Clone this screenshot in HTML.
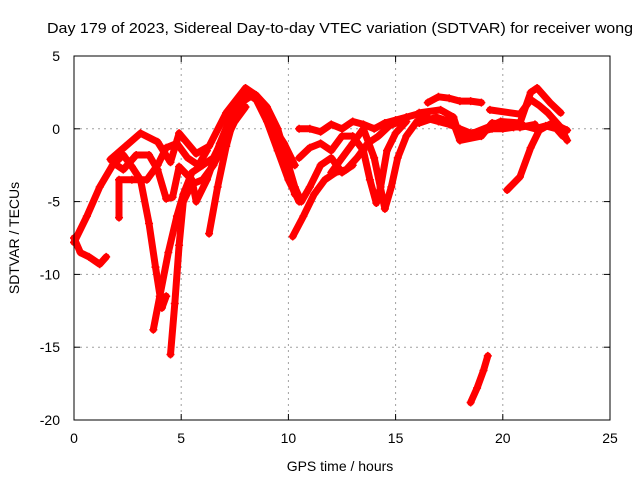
<!DOCTYPE html>
<html><head><meta charset="utf-8"><style>
body{margin:0;background:#fff}
svg{display:block;font-family:"Liberation Sans",sans-serif}
</style></head><body>
<svg id="chart" width="640" height="480" viewBox="0 0 640 480">
<text x="340" y="33" text-anchor="middle" font-size="15" textLength="586" lengthAdjust="spacingAndGlyphs">Day 179 of 2023, Sidereal Day-to-day VTEC variation (SDTVAR) for receiver wong</text>
<text x="340" y="471" text-anchor="middle" font-size="14">GPS time / hours</text>
<text transform="translate(19,238) rotate(-90)" text-anchor="middle" font-size="14">SDTVAR / TECUs</text>
<g id="grid"></g><g id="ticks"></g><g id="series"></g>
<rect x="74" y="56" width="536" height="364" fill="none" stroke="#000" stroke-width="1"/>
</svg>
<script>
const xTicks=[0,5,10,15,20,25];
const yTicks=[5,0,-5,-10,-15,-20];
const track1=[[0,-7.5],[0.3,-8.5],[0.7,-8.8],[1.2,-9.3],[1.5,-8.8]];
const track2=[[0,-7.8],[0.6,-6],[1.2,-4],[1.8,-2.5],[2.3,-1.8],[2.7,-2.6],[3.1,-3.5],[3.5,-6.5],[3.8,-9.5],[4.1,-12.3],[4.3,-11.5]];
const track3=[[3.7,-13.8],[4.0,-11.5],[4.4,-8.5],[4.8,-6],[5.1,-4.5],[5.5,-3],[6,-2.5],[6.5,-2],[7,-0.5],[7.5,1],[8,2.5],[8.5,2],[9,0.5],[9.5,-1.5],[10,-3.5],[10.5,-5]];
const track4=[[4.5,-15.5],[4.7,-12],[4.9,-8],[5.1,-5],[5.5,-3.8],[6,-3.5],[6.5,-2.5],[7,-1],[7.5,0.5],[8,1.5]];
const track5=[[1.7,-2.1],[2.4,-1.2],[3.1,-0.3],[3.9,-0.9],[4.5,-2.3],[4.9,-0.3],[5.7,-1.7],[6.3,-1.2],[7.1,1.1],[8,2.8],[8.5,2.3],[9.1,0.6],[9.8,-1],[10.3,-2.5]];
const track6=[[1.8,-2.3],[2.3,-2.8],[2.9,-1.8],[3.5,-1.8],[3.9,-2.8],[4.3,-4.8],[4.6,-4.7],[4.9,-2.6],[5.5,-3.5],[5.7,-5],[6.2,-3.5],[6.8,-1],[7.5,1.5],[8.2,2.2]];
const track7=[[2.1,-6.1],[2.1,-3.5],[2.7,-3.5],[3.4,-3.5],[3.9,-2.5],[4.3,-1.3],[4.8,-1],[5.3,-2],[5.8,-2.5],[6.2,-1.5]];
const track8=[[6.3,-7.2],[6.7,-4],[7.1,-1.2],[7.6,1.5],[8.2,2.3],[8.8,1.8],[9.3,0.2],[9.7,-1.5],[10,-3],[10.3,-4.5]];
const track9=[[8.5,2.3],[9,1.5],[9.5,0],[10,-2.5],[10.3,-4],[10.6,-5],[11,-4],[11.5,-2.5],[12,-2],[12.5,-3],[13,-2.5]];
const track10=[[10.2,-7.4],[10.7,-6],[11.2,-4.5],[11.7,-3.5],[12.2,-3],[12.7,-2.8],[13.2,-2],[13.7,-1],[14.2,-0.5],[14.7,0.2],[15.2,0.5]];
const track11=[[10.5,-2],[11,-1.3],[11.5,-1],[12,-1.5],[12.5,-0.5],[13,-0.5],[13.5,-1.5],[13.8,-3.5],[14.1,-5.1],[14.3,-4],[14.6,-1.5],[15,-0.3],[15.5,0.5]];
const track12=[[12,-3],[12.5,-2],[13,-1],[13.5,0],[14,-2],[14.5,-5.5],[14.8,-4],[15.1,-2],[15.5,-0.5],[16,0.5],[16.5,0.8]];
const track13=[[10.5,0],[11,0],[11.5,-0.2],[12,0.3],[12.5,0],[13,0.5],[13.5,0.3],[14,0],[14.5,0.4],[15,0.6],[15.5,0.8],[16,1],[16.5,0.7],[17,0.5],[17.5,0.3],[18,0],[18.5,-0.3],[19,-0.2],[19.5,0],[20,0],[20.5,0.1],[21,0.2],[21.5,0],[22,0.2],[22.5,0],[22.8,-0.5]];
const track14=[[16.5,1.8],[17,2.2],[17.5,2.1],[18,1.9],[18.5,1.9],[19,1.8]];
const track15=[[16.1,1.1],[17.1,1.3],[17.7,0.8],[18,-0.6],[18.6,-0.3],[19.3,0.1],[19.9,0.5],[20.8,0.4],[21.3,2.5],[21.6,2.8],[22.2,1.8],[22.7,1.1]];
const track16=[[19.4,1.3],[20.8,1],[21.3,2],[21.7,1.6],[22.1,1.1],[22.7,0.1],[23,-0.8]];
const track17=[[20.2,-4.2],[20.8,-3.3],[21.3,-1.3],[21.7,-0.1],[22.3,0.4],[23,-0.1]];
const track18=[[16.1,0.4],[16.9,0.8],[17.7,0.4],[18,-0.8],[19,-0.5],[19.5,0.4],[20.8,0.1],[21.5,0.3]];
const track19=[[18.5,-18.8],[18.8,-17.8],[19.1,-16.6],[19.3,-15.6]];
const tracks=[track1,track2,track3,track4,track5,track6,track7,track8,track9,track10,track11,track12,track13,track14,track15,track16,track17,track18,track19];
const X0=74,X1=610,Y0=56,Y1=420;
function sx(h){return X0+(h-0)/(25-0)*(X1-X0);}
function sy(v){return Y0+(5-v)/(5-(-20))*(Y1-Y0);}
const NS="http://www.w3.org/2000/svg";
const grid=document.getElementById('grid'),ticks=document.getElementById('ticks'),ser=document.getElementById('series');
function mk(tag,attrs,parent){const e=document.createElementNS(NS,tag);for(const k in attrs)e.setAttribute(k,attrs[k]);parent.appendChild(e);return e;}
xTicks.forEach(t=>{
 const x=sx(t);
 if(t>0&&t<25){const g=mk('line',{x1:x,x2:x,y1:Y0,y2:Y1,stroke:'#a0a0a0','stroke-dasharray':'2,4'},grid);
 
 }
 mk('line',{x1:x,x2:x,y1:Y1,y2:Y1-6,stroke:'#000'},ticks);
 mk('line',{x1:x,x2:x,y1:Y0,y2:Y0+6,stroke:'#000'},ticks);
 const l=mk('text',{x:x,y:Y1+23,'text-anchor':'middle','font-size':'14'},ticks);l.textContent=t;
 
 
});
yTicks.forEach(t=>{
 const y=sy(t);
 if(t<5&&t>-20){const g=mk('line',{x1:X0,x2:X1,y1:y,y2:y,stroke:'#a0a0a0','stroke-dasharray':'2,4'},grid);
 
 }
 mk('line',{x1:X0,x2:X0+6,y1:y,y2:y,stroke:'#000'},ticks);
 mk('line',{x1:X1,x2:X1-6,y1:y,y2:y,stroke:'#000'},ticks);
 const l=mk('text',{x:X0-14,y:y+5,'text-anchor':'end','font-size':'14'},ticks);l.textContent=t;
 
 
});
tracks.forEach((tr,i)=>{
 const pts=tr.map(p=>sx(p[0]).toFixed(1)+','+sy(p[1]).toFixed(1)).join(' ');
 const pl=mk('polyline',{points:pts,fill:'none',stroke:'#ff0000','stroke-width':'7','stroke-linejoin':'round','stroke-linecap':'round'},ser);
 
 
 tr.forEach(p=>{
  const x=sx(p[0]),y=sy(p[1]);
  const m=mk('path',{d:`M${x-4},${y}H${x+4}M${x},${y-4}V${y+4}`,stroke:'#ff0000','stroke-width':'1.5'},ser);
  
  
 });
});
</script>
</body></html>
